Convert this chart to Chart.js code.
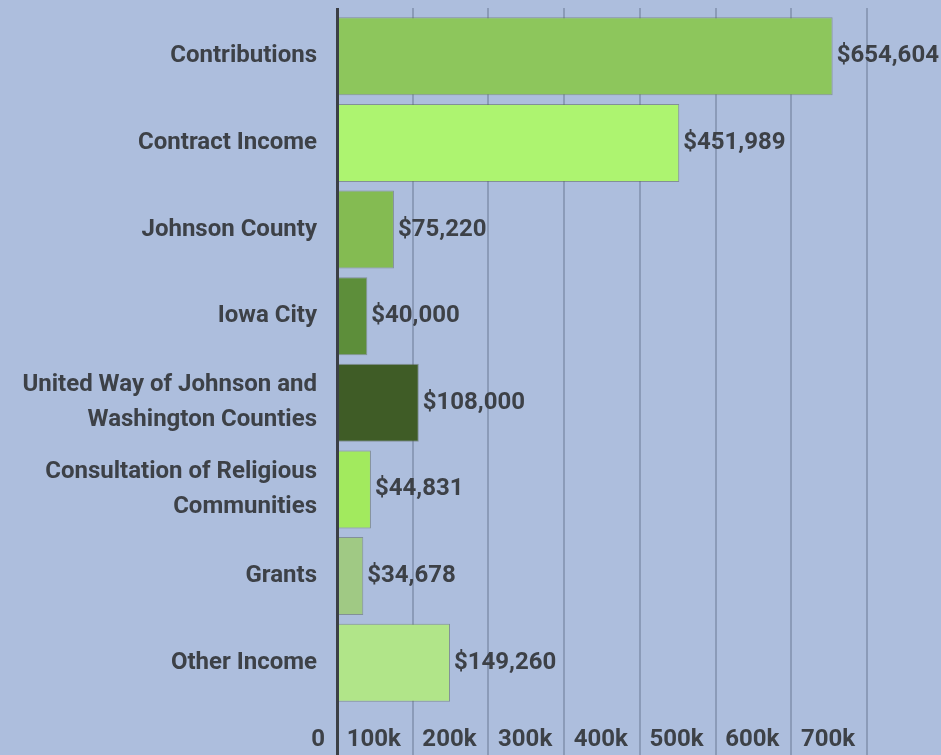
<!DOCTYPE html>
<html>
<head>
<meta charset="utf-8">
<script src="https://cdn.jsdelivr.net/npm/chart.js@4"></script>
<style>
  html, body { margin: 0; padding: 0; background: #adbedd; }
  #wrap { width: 941px; height: 755px; }
</style>
</head>
<body>
<div id="wrap"><canvas id="grafica" width="941" height="755"></canvas></div>
<script>
const categorias = [
    "Contributions",
    "Contract Income",
    "Johnson County",
    "Iowa City",
    ["United Way of Johnson and", "Washington Counties"],
    ["Consultation of Religious", "Communities"],
    "Grants",
    "Other Income"
];
const valores = [654604, 451989, 75220, 40000, 108000, 44831, 34678, 149260];
const colores = ["#8dc65c", "#adf470", "#84bb52", "#5d8e3a", "#3f5c26", "#a2ea5e", "#a0c984", "#b1e589"];
const ticksX = [0, 100000, 200000, 300000, 400000, 500000, 600000, 700000];

const fuente = "Roboto";
const textoColor = "#3d4147";
const ejeColor = "#3b3f45";
const gridColor = "#8b9bb8";

// etiquetas de valor al final de cada barra
const etiquetasValor = {
    id: "etiquetasValor",
    afterDatasetsDraw(chart) {
        const ctx = chart.ctx;
        const meta = chart.getDatasetMeta(0);
        ctx.save();
        ctx.font = "bold 24px " + fuente;
        ctx.fillStyle = textoColor;
        ctx.textAlign = "left";
        ctx.textBaseline = "middle";
        meta.data.forEach((bar, i) => {
            ctx.fillText("$" + valores[i].toLocaleString("en-US"), bar.x + 4, bar.y);
        });
        ctx.restore();
    }
};

const data = {
    labels: categorias,
    datasets: [{
        data: valores,
        backgroundColor: colores,
        borderColor: "rgba(95,105,95,0.55)",
        borderWidth: 1,
        barPercentage: 0.9,
        categoryPercentage: 1
    }]
};

const config = {
    type: "bar",
    data: data,
    plugins: [etiquetasValor],
    options: {
        indexAxis: "y",
        responsive: false,
        animation: false,
        layout: { padding: { top: 8, right: 74, left: 0, bottom: 0 } },
        plugins: { legend: { display: false }, tooltip: { enabled: false } },
        scales: {
            x: {
                position: "bottom",
                min: 0,
                max: 700000,
                afterBuildTicks: s => { s.ticks = ticksX.map(v => ({ value: v })); },
                afterFit: s => { s.height = 49; },
                grid: {
                    color: c => c.index === 0 ? ejeColor : gridColor,
                    lineWidth: c => c.index === 0 ? 3 : 2,
                    tickLength: 49
                },
                border: { display: false },
                ticks: {
                    align: "end",
                    padding: -29,
                    color: textoColor,
                    font: { family: fuente, size: 24, weight: "bold" },
                    callback: v => (v === 0 ? "0" : (v / 1000) + "k") + "  "
                }
            },
            x2: {
                position: "top",
                min: 0,
                max: 700000,
                afterBuildTicks: s => { s.ticks = ticksX.map(v => ({ value: v })); },
                afterFit: s => { s.height = 5; },
                grid: {
                    drawOnChartArea: false,
                    color: c => c.index === 0 ? ejeColor : gridColor,
                    lineWidth: c => c.index === 0 ? 3 : 2,
                    tickLength: 5
                },
                border: { display: false },
                ticks: { display: false }
            },
            y: {
                afterFit: s => { s.width = 337; s.paddingTop = 0; s.paddingBottom = 0; },
                grid: { display: false, drawTicks: false },
                border: { display: true, color: ejeColor, width: 3, z: 1 },
                ticks: {
                    padding: 20,
                    color: textoColor,
                    font: { family: fuente, size: 24, weight: "bold", lineHeight: 1.45 }
                }
            }
        }
    }
};

const ChartPrincipal = new Chart(document.getElementById("grafica"), config);
</script>
</body>
</html>
